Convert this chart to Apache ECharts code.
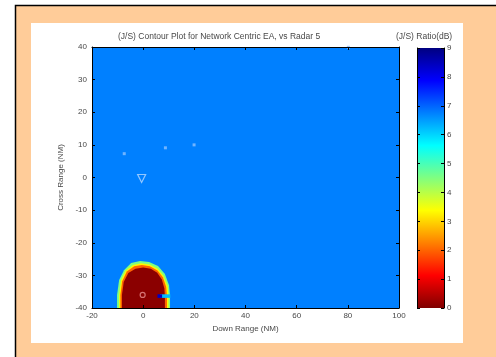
<!DOCTYPE html>
<html>
<head>
<meta charset="utf-8">
<script src="https://cdn.jsdelivr.net/npm/echarts@6/dist/echarts.min.js"></script>
<style>
  html, body { margin: 0; padding: 0; background: #fff; }
  #chart { width: 496px; height: 357px; }
</style>
</head>
<body>
<div id="chart"></div>
<script>
// Axis ticks
const xTicks = [-20, 0, 20, 40, 60, 80, 100];
const yTicks = [-40, -30, -20, -10, 0, 10, 20, 30, 40];
const barTicks = [0, 1, 2, 3, 4, 5, 6, 7, 8, 9];

// Jet colormap, reversed (value 0 = dark red, 9 = dark blue)
const jetColors = ['#800000', '#ff0000', '#ff8000', '#ffff00', '#80ff80', '#00ffff', '#0080ff', '#0000ff', '#000080'];

// Contour bands (outline points in NM), drawn back to front
const bgBand = [[-20, -40], [100, -40], [100, 40], [-20, 40]];
const greenBand = [[-10.2, -40], [-10.2, -36], [-9.4, -31.4], [-7.5, -28.4], [-4.7, -26.2], [-1.2, -25.6],
  [2.3, -25.9], [5.8, -27.1], [8.5, -29.6], [10.1, -33], [10.5, -36.3], [10.5, -40]];
const yellowBand = [[-9.4, -40], [-9.4, -36], [-8.7, -31.6], [-6.9, -28.6], [-4, -26.8], [-0.8, -26.3],
  [2.5, -26.7], [5.7, -28], [8, -30.2], [9.6, -33.4], [9.9, -36.4], [9.9, -40]];
const orangeBand = [[-8.9, -40], [-8.9, -36], [-8.2, -31.8], [-6.4, -28.8], [-3.5, -27.2], [-0.5, -26.8],
  [2.6, -27.2], [5.6, -28.5], [7.7, -30.6], [9, -33.6], [9.3, -36.4], [9.3, -40]];
const coreBand = [[-8.3, -40], [-8.3, -36], [-7.6, -32], [-5.8, -29.3], [-3, -28], [0, -27.6],
  [3, -28], [5.5, -29.2], [7.3, -31.3], [8.3, -34], [8.5, -36.5], [8.5, -40]];
const notchBand = [[6.6, -35.8], [10.6, -35.8], [10.6, -36.9], [6.6, -36.9]];
const notchDark = [[5.6, -35.8], [7.4, -35.8], [7.4, -36.9], [5.6, -36.9]];

const bands = [bgBand, greenBand, yellowBand, orangeBand, coreBand, notchBand, notchDark];
const bandValues = [6.75, 4.5, 3.3, 2.0, 0.1, 6.2, 8.4];

// Markers
const dotPoints = [[-7.4, 7.3], [8.7, 9.1], [19.9, 10], [80.2, 39.9]];
const trianglePoints = [[-0.6, -0.3]];
const circlePoints = [[-0.2, -36]];

const font = 'Liberation Sans, Arial, sans-serif';
const txt = '#484848';

const chart = echarts.init(document.getElementById('chart'), null, { renderer: 'canvas' });

const axisCommon = {
  z: 10,
  axisLine: { show: true, onZero: false, lineStyle: { color: '#000', width: 1 } },
  axisTick: { show: true, inside: true, length: 3, lineStyle: { color: '#000' } },
  splitLine: { show: false }
};

chart.setOption({
  animation: false,
  backgroundColor: '#fff',
  graphic: [
    { type: 'rect', z: -10, shape: { x: 15.5, y: 5.5, width: 490, height: 360 },
      style: { fill: '#ffcc99', stroke: '#000', lineWidth: 1.5 } },
    { type: 'rect', z: -9, shape: { x: 31, y: 23, width: 432, height: 320 },
      style: { fill: '#fff' } },
    { type: 'text', left: 118, top: 32, z: 5,
      style: { text: '(J/S) Contour Plot for Network Centric EA, vs Radar 5', font: '8.5px ' + font, fill: txt } },
    { type: 'text', left: 396, top: 32, z: 5,
      style: { text: '(J/S) Ratio(dB)', font: '8.5px ' + font, fill: txt } }
  ],
  visualMap: {
    show: false,
    type: 'continuous',
    seriesIndex: 0,
    dimension: 2,
    min: 0,
    max: 9,
    inRange: { color: jetColors }
  },
  grid: [
    { left: 92, top: 47, width: 307, height: 261, show: false },
    { left: 417, top: 48, width: 27, height: 260, show: false }
  ],
  xAxis: [
    Object.assign({}, axisCommon, {
      type: 'value', gridIndex: 0, min: -20, max: 100, interval: 20, position: 'bottom',
      name: 'Down Range (NM)', nameLocation: 'middle', nameGap: 16,
      nameTextStyle: { fontFamily: font, fontSize: 8, color: txt },
      axisLabel: { fontFamily: font, fontSize: 8, color: txt, margin: 4,
        customValues: xTicks }
    }),
    Object.assign({}, axisCommon, {
      type: 'value', gridIndex: 0, min: -20, max: 100, interval: 20, position: 'top',
      axisLabel: { show: false }
    }),
    { type: 'category', gridIndex: 1, data: ['bar'], show: false }
  ],
  yAxis: [
    Object.assign({}, axisCommon, {
      type: 'value', gridIndex: 0, min: -40, max: 40, interval: 10, position: 'left',
      name: 'Cross Range (NM)', nameLocation: 'middle', nameGap: 20,
      nameTextStyle: { fontFamily: font, fontSize: 8, color: txt },
      axisLabel: { fontFamily: font, fontSize: 8, color: txt, margin: 5, customValues: yTicks }
    }),
    Object.assign({}, axisCommon, {
      type: 'value', gridIndex: 0, min: -40, max: 40, interval: 10, position: 'right',
      axisLabel: { show: false }
    }),
    Object.assign({}, axisCommon, {
      type: 'value', gridIndex: 1, min: 0, max: 9, interval: 1, position: 'right',
      axisLabel: { fontFamily: font, fontSize: 8, color: txt, margin: 3, customValues: barTicks }
    }),
    Object.assign({}, axisCommon, {
      type: 'value', gridIndex: 1, min: 0, max: 9, interval: 1, position: 'left',
      axisLabel: { show: false }
    })
  ],
  series: [
    {
      type: 'custom',
      xAxisIndex: 0,
      yAxisIndex: 0,
      clip: true,
      encode: { x: 0, y: 1 },
      data: bands.map((b, i) => [b[0][0], b[0][1], bandValues[i], i]),
      renderItem: function (params, api) {
        const idx = api.value(3);
        const pts = bands[idx].map(p => api.coord(p));
        return {
          type: 'polygon',
          shape: { points: pts },
          style: { fill: api.visual('color'), stroke: null }
        };
      },
      z: 1
    },
    {
      type: 'scatter', xAxisIndex: 0, yAxisIndex: 0,
      data: dotPoints, symbol: 'rect', symbolSize: 3,
      itemStyle: { color: '#8cc0ff' }, z: 3
    },
    {
      type: 'scatter', xAxisIndex: 0, yAxisIndex: 0,
      data: trianglePoints, symbol: 'triangle', symbolRotate: 180, symbolSize: 8,
      itemStyle: { color: 'rgba(0,0,0,0)', borderColor: '#b8d8ff', borderWidth: 1.2 }, z: 3
    },
    {
      type: 'scatter', xAxisIndex: 0, yAxisIndex: 0,
      data: circlePoints, symbol: 'circle', symbolSize: 5,
      itemStyle: { color: 'rgba(0,0,0,0)', borderColor: '#e89090', borderWidth: 1.2 }, z: 3
    },
    {
      type: 'bar', xAxisIndex: 2, yAxisIndex: 2,
      data: [9], barWidth: '100%', silent: true,
      itemStyle: {
        color: new echarts.graphic.LinearGradient(0, 0, 0, 1,
          jetColors.slice().reverse().map((c, i, a) => ({ offset: i / (a.length - 1), color: c })))
      },
      z: 1
    }
  ]
});
</script>
</body>
</html>
